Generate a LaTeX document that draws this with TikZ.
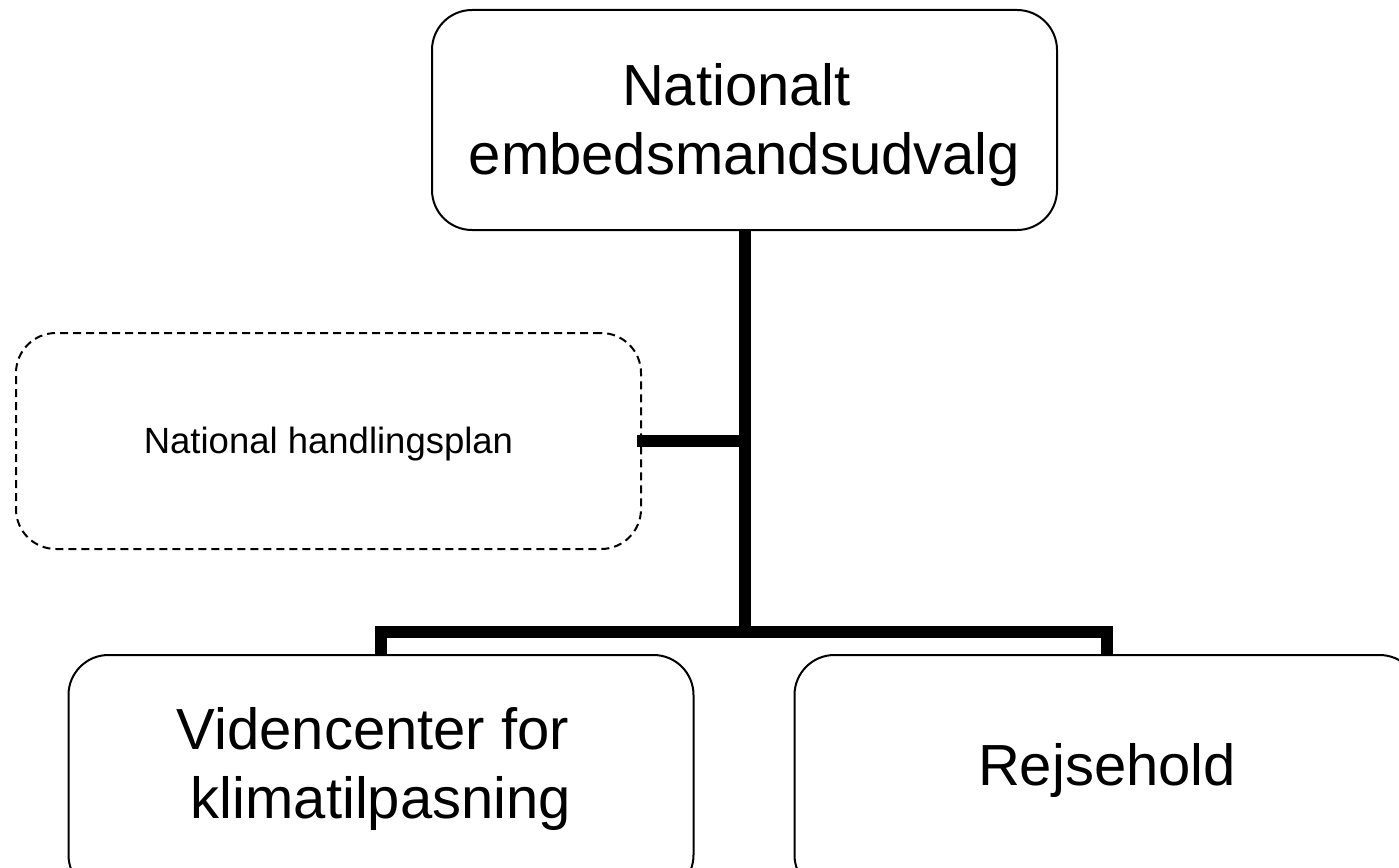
\documentclass[tikz,border=0pt]{standalone}
\usepackage{fontspec}
\setmainfont{Liberation Sans}
\begin{document}
\begin{tikzpicture}[x=1pt,y=-1pt,
  box/.style={draw=black, line width=2pt, rounded corners=40pt, inner sep=0pt, outer sep=0pt, minimum width=625pt},
  dbox/.style={box, dash pattern=on 8pt off 5pt},
  big/.style={font=\fontsize{58}{69}\selectfont, align=center, inner sep=0pt},
  small/.style={font=\fontsize{36.5}{44}\selectfont, inner sep=0pt},
  conn/.style={draw=black, line width=12pt, line cap=butt, line join=miter}]
\useasboundingbox (0,0) rectangle (1399,867);
\clip (0,0) rectangle (1399,867);
\node[box, minimum height=220pt] (top) at (744.5,120) {};
\node[big] (topt) at (744.5,125.5) {Nationalt\hspace*{16pt}\\embedsmandsudvalg};
\node[dbox, minimum height=216pt] (hand) at (328.5,441) {};
\node[small] (handt) at (328.5,443.7) {National handlingsplan};
\node[box, minimum height=240pt] (vid) at (381,775) {};
\node[big] (vidt) at (381,769) {Videncenter for\hspace*{16pt}\\klimatilpasning};
\node[box, minimum height=240pt] (rej) at (1107,775) {};
\node[big] (rejt) at (1107,770) {Rejsehold};
\coordinate (hub) at (744.5,632);
\draw[conn] (top.south) -- (hub);
\draw[conn] ([xshift=-4pt]hand.east) -- (hand.east -| top.south);
\draw[conn] (vid.north) |- (hub) -| (rej.north);
\end{tikzpicture}
\end{document}
